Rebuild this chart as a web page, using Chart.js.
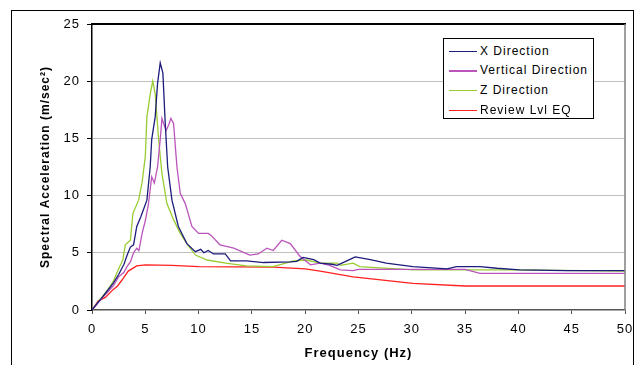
<!DOCTYPE html>
<html>
<head>
<meta charset="utf-8">
<script src="https://cdn.jsdelivr.net/npm/chart.js@4.4.1/dist/chart.umd.min.js"></script>
<style>
  body { margin: 0; background: #fff; }
  #wrap { position: relative; width: 636px; height: 365px; overflow: hidden; }
  #leyenda {
    position: absolute; left: 443px; top: 38px; width: 149px; height: 79px;
    border: 1px solid #000; background: #fff;
    font-family: 'Liberation Sans', Arial, sans-serif; font-size: 12px; letter-spacing: 1px;
  }
  .fila { position: absolute; left: 0; height: 20px; line-height: 20px; white-space: nowrap; }
  .muestra { position: absolute; left: 5px; width: 28px; top: 10px; }
  .texto { position: absolute; left: 36px; top: 0; }
</style>
</head>
<body>
<div id="wrap">
  <canvas id="myChart" width="636" height="365"></canvas>
  <div id="leyenda"></div>
</div>
<script>
// Etiquetas de las series
const seriesLabels = ['X Direction', 'Vertical Direction', 'Z Direction', 'Review Lvl EQ'];

// X Direction
const xDirFreq = [0, 0.5, 1, 1.5, 2, 2.5, 3, 3.3, 3.6, 3.9, 4.2, 4.6, 5.15, 5.46, 5.6, 5.93, 6.15, 6.4, 6.65, 6.87, 7.1, 7.5, 8.1, 8.9, 9.7, 10.2, 10.5, 10.9, 11.4, 12.5, 13.0, 14.5, 16.1, 18.6, 19.2, 19.8, 20.8, 21.4, 22.5, 23.0, 23.9, 24.7, 26.1, 27.6, 30.1, 33.3, 34.2, 36.4, 38.0, 40.1, 44.5, 50];
const xDirVals = [0, 0.6, 1.15, 1.75, 2.35, 3.1, 4.0, 4.8, 5.5, 5.7, 7.3, 8.2, 9.6, 12.5, 14.9, 16.9, 19.8, 21.6, 20.7, 16.3, 12.5, 9.6, 7.3, 5.8, 5.1, 5.3, 5.0, 5.2, 4.9, 4.9, 4.3, 4.3, 4.15, 4.2, 4.25, 4.6, 4.4, 4.1, 4.0, 3.9, 4.3, 4.65, 4.4, 4.1, 3.8, 3.6, 3.8, 3.8, 3.65, 3.5, 3.45, 3.45];

// Vertical Direction
const vertFreq = [0, 0.5, 1, 1.5, 2, 2.5, 3.0, 3.28, 3.6, 3.9, 4.2, 4.4, 4.7, 5.0, 5.3, 5.6, 5.85, 6.15, 6.4, 6.56, 6.75, 6.96, 7.2, 7.4, 7.65, 7.97, 8.28, 8.75, 9.37, 10.0, 10.9, 11.2, 12.0, 13.3, 14.8, 15.6, 16.4, 17.0, 17.8, 18.6, 19.5, 20.5, 21.4, 22.3, 23.3, 24.5, 25.0, 30, 35, 36.4, 40, 50];
const vertVals = [0, 0.55, 1.1, 1.6, 2.1, 2.9, 3.3, 3.8, 4.2, 5.0, 5.4, 5.2, 6.7, 7.8, 9.3, 11.65, 11.1, 12.5, 14.9, 16.75, 16.2, 15.7, 16.2, 16.75, 16.3, 12.5, 10.2, 9.3, 7.3, 6.7, 6.7, 6.5, 5.7, 5.4, 4.8, 4.9, 5.4, 5.2, 6.1, 5.8, 4.7, 3.95, 4.1, 3.9, 3.5, 3.45, 3.55, 3.55, 3.55, 3.2, 3.2, 3.2];

// Z Direction
const zDirFreq = [0, 0.5, 1, 1.5, 2, 2.5, 2.9, 3.12, 3.6, 3.84, 4.37, 4.69, 5.0, 5.15, 5.3, 5.46, 5.7, 5.93, 6.25, 6.56, 7.03, 7.65, 8.28, 8.9, 9.7, 10.8, 12.7, 14.5, 17.0, 18.9, 20.1, 21.4, 23.0, 23.3, 24.5, 25.1, 30.1, 40, 50];
const zDirVals = [0, 0.6, 1.2, 1.8, 2.5, 3.6, 4.4, 5.7, 6.1, 8.45, 9.6, 11.1, 13.4, 16.9, 17.8, 18.9, 20.0, 18.9, 14.9, 11.95, 9.3, 7.9, 6.7, 5.8, 4.8, 4.37, 4.08, 3.85, 3.8, 4.3, 4.37, 4.1, 4.1, 3.9, 4.1, 3.8, 3.5, 3.5, 3.4];

// Review Lvl EQ
const reviewFreq = [0, 0.6, 1.25, 2.0, 2.4, 2.8, 3.4, 4.2, 5.0, 7.5, 10, 17, 20, 21.4, 24.5, 30.1, 35, 50];
const reviewVals = [0, 0.8, 1.1, 1.8, 2.1, 2.6, 3.4, 3.85, 3.95, 3.9, 3.8, 3.75, 3.6, 3.4, 2.9, 2.33, 2.1, 2.1];

// Ejes
const xTicks = [0, 5, 10, 15, 20, 25, 30, 35, 40, 45, 50];
const yTicks = [0, 5, 10, 15, 20, 25];

const colores = ['#1c1c7c', '#bb55bb', '#99cc33', '#ff2020'];

function puntos(freq, vals) {
    return freq.map((f, i) => ({ x: f, y: vals[i] }));
}

const datasets = [
    [xDirFreq, xDirVals],
    [vertFreq, vertVals],
    [zDirFreq, zDirVals],
    [reviewFreq, reviewVals]
].map((par, i) => ({
    label: seriesLabels[i],
    data: puntos(par[0], par[1]),
    borderColor: colores[i],
    backgroundColor: colores[i],
    borderWidth: 1.3,
    pointRadius: 0,
    tension: 0,
    fill: false
}));

// Fondo, borde exterior y borde del área del gráfico
const bordes = {
    id: 'bordes',
    beforeDraw(chart) {
        const ctx = chart.ctx;
        ctx.save();
        ctx.fillStyle = '#fff';
        ctx.fillRect(0, 0, chart.width, chart.height);
        ctx.strokeStyle = '#000';
        ctx.lineWidth = 1;
        ctx.strokeRect(11.5, 10.5, 622, 400);
        ctx.restore();
        ctx.letterSpacing = '1px';
    },
    afterDraw(chart) {
        const { left, right, top, bottom } = chart.chartArea;
        const ctx = chart.ctx;
        ctx.save();
        ctx.strokeStyle = '#000';
        ctx.lineWidth = 2;
        ctx.beginPath();
        ctx.moveTo(left - 1, top);
        ctx.lineTo(right + 1, top);
        ctx.stroke();
        ctx.strokeStyle = '#808080';
        ctx.lineWidth = 1.5;
        ctx.beginPath();
        ctx.moveTo(right, top);
        ctx.lineTo(right, bottom);
        ctx.stroke();
        ctx.restore();
    }
};

Chart.defaults.font.family = "'Liberation Sans', Arial, sans-serif";
Chart.defaults.color = '#000';

const ctx = document.getElementById('myChart').getContext('2d');
window.myChart = new Chart(ctx, {
    type: 'line',
    data: { datasets: datasets },
    plugins: [bordes],
    options: {
        responsive: false,
        animation: false,
        layout: { padding: { left: 0, top: 24, right: 11, bottom: 0 } },
        plugins: {
            legend: { display: false },
            tooltip: { enabled: false }
        },
        scales: {
            x: {
                type: 'linear',
                min: 0,
                max: 50,
                afterBuildTicks: (scale) => { scale.ticks = xTicks.map(v => ({ value: v })); },
                afterFit: (scale) => {
                    scale.height = 55;
                    scale.paddingLeft = 0;
                    scale.paddingRight = 0;
                },
                ticks: { font: { size: 13 }, padding: 8, maxRotation: 0 },
                grid: { drawOnChartArea: false, tickLength: 4, tickColor: '#555' },
                border: { color: '#555', width: 1.5 },
                title: {
                    display: true,
                    text: 'Frequency (Hz)',
                    font: { size: 13, weight: 'bold' },
                    padding: { top: 4, bottom: 4 }
                }
            },
            y: {
                min: 0,
                max: 25,
                afterBuildTicks: (scale) => { scale.ticks = yTicks.map(v => ({ value: v })); },
                afterFit: (scale) => {
                    scale.width = 92;
                    scale.paddingTop = 0;
                    scale.paddingBottom = 0;
                },
                ticks: { font: { size: 13 }, padding: 7 },
                grid: {
                    color: (c) => (c.tick && (c.tick.value === 0 || c.tick.value === 25)) ? 'rgba(0,0,0,0)' : '#c0c0c0',
                    tickLength: 5,
                    tickColor: '#000'
                },
                border: { color: '#000', width: 1.5 },
                title: {
                    display: true,
                    text: 'Spectral Acceleration (m/sec²)',
                    font: { size: 12, weight: 'bold' },
                    padding: { top: 38, bottom: 38 }
                }
            }
        }
    }
});

// Leyenda con recuadro dentro del área del gráfico
const leyenda = document.getElementById('leyenda');
const filasTop = [2, 21, 41, 61];
seriesLabels.forEach((lbl, i) => {
    const fila = document.createElement('div');
    fila.className = 'fila';
    fila.style.top = filasTop[i] + 'px';
    fila.style.width = '149px';
    const m = document.createElement('div');
    m.className = 'muestra';
    m.style.borderTop = (i === 1 ? 2 : 1) + 'px solid ' + colores[i];
    const t = document.createElement('span');
    t.className = 'texto';
    t.textContent = lbl;
    fila.appendChild(m);
    fila.appendChild(t);
    leyenda.appendChild(fila);
});
</script>
</body>
</html>
